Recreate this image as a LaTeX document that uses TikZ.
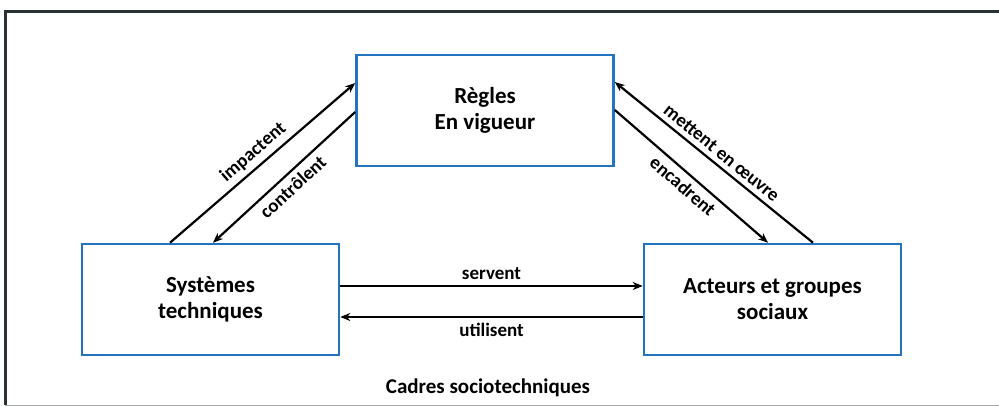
\documentclass[tikz,border=0pt]{standalone}
\usepackage{fontspec}
\setmainfont{Carlito}
\usetikzlibrary{calc,arrows.meta}
\definecolor{boxblue}{RGB}{35,115,190}
\definecolor{framegray}{RGB}{40,50,50}
\begin{document}
\begin{tikzpicture}[x=1pt,y=-1pt,
  box/.style={draw=boxblue,line width=2.6pt,minimum width=257pt,minimum height=111pt,inner sep=0pt,align=center,font=\fontsize{23}{26}\selectfont\bfseries},
  arr/.style={line width=2.2pt,-{Stealth[length=10pt,width=8pt]}},
  lab/.style={font=\fontsize{19}{22}\selectfont\bfseries,inner sep=1pt}]
\useasboundingbox (0,0) rectangle (999,407);
\fill[white] (0,0) rectangle (999,407);
\draw[framegray,line width=3pt] (1005,11) -- (5,11) -- (5,405);
\draw[framegray!40,line width=1pt] (5,405) -- (1005,405);
\node[box] (top) at (485,110.5) {Règles\\En vigueur};
\node[box] (sys) at (210.5,299.5) {Systèmes\\techniques};
\node[box] (act) at (772.5,299.5) {Acteurs et groupes\\sociaux};
% left diagonals
\draw[arr] ([xshift=-40.5pt]sys.north) -- node[lab,sloped,above=4pt]{impactent} ([yshift=27.5pt]top.west);
\draw[arr] ([yshift=-1.5pt]top.west) -- node[lab,sloped,below=4pt]{contrôlent} ([xshift=2.5pt]sys.north);
% right diagonals
\draw[arr] ([xshift=40.5pt]act.north) -- node[lab,sloped,above=4pt]{mettent en œuvre} ([yshift=28.5pt]top.east);
\draw[arr] ([yshift=0.5pt]top.east) -- node[lab,sloped,below=4pt]{encadrent} ([xshift=-4.5pt]act.north);
% horizontals
\draw[arr] ([yshift=13.5pt]sys.east) -- node[lab,above=4pt]{servent} ([yshift=13.5pt]act.west);
\draw[arr] ([yshift=-17.5pt]act.west) -- node[lab,below=4pt]{utilisent} ([yshift=-17.5pt]sys.east);
\node[font=\fontsize{21}{24}\selectfont\bfseries,inner sep=1pt] (cap) at (488,388) {Cadres sociotechniques};
\end{tikzpicture}
\end{document}
